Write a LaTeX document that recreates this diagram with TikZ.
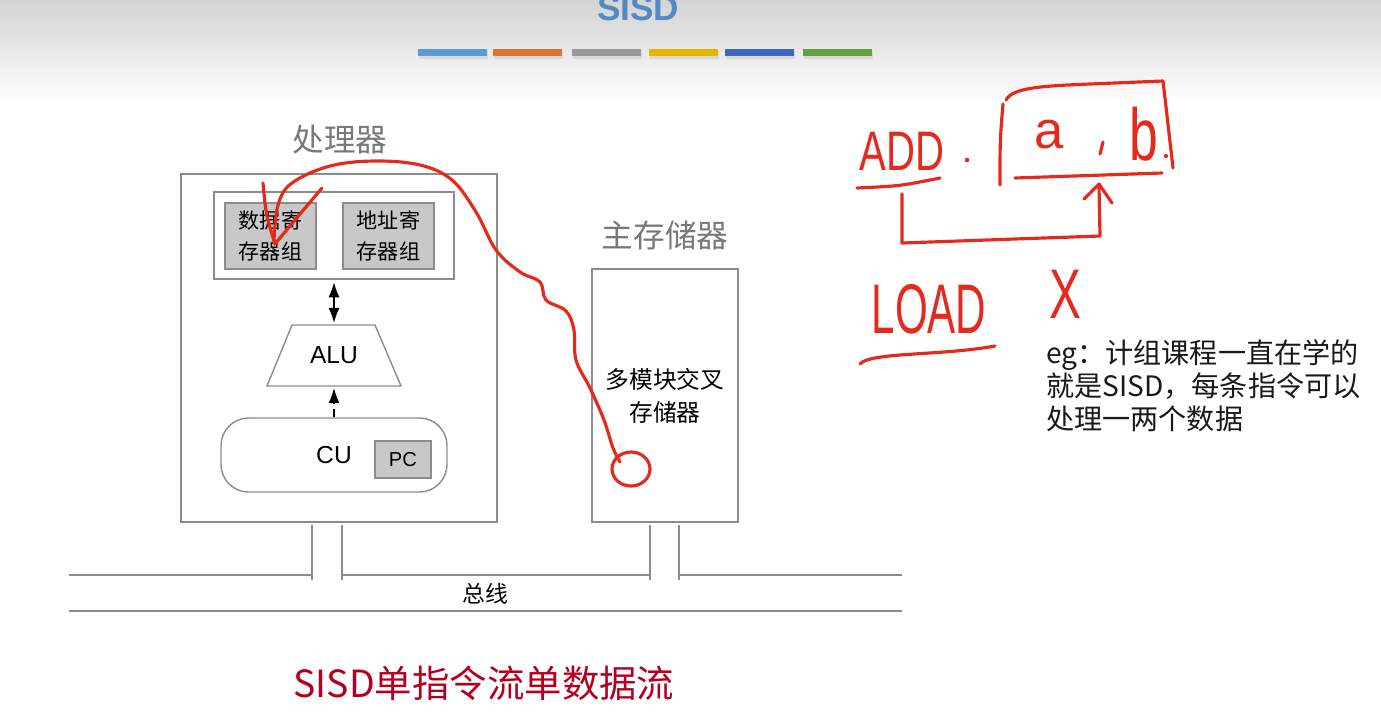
\documentclass[tikz,border=0pt]{standalone}
\usepackage{fontspec}
\usepackage{graphicx}
\setmainfont{Liberation Sans}
\newfontfamily\cjk{Noto Sans CJK SC}
\usetikzlibrary{arrows.meta}
\definecolor{boxgray}{RGB}{140,140,140}
\definecolor{fillgray}{RGB}{200,200,200}
\definecolor{labgray}{RGB}{120,120,120}
\definecolor{pen}{RGB}{228,42,28}
\definecolor{titleblue}{RGB}{80,140,195}
\definecolor{darkred}{RGB}{180,0,30}
\definecolor{bar1}{RGB}{91,155,213}
\definecolor{bar2}{RGB}{221,115,48}
\definecolor{bar3}{RGB}{153,153,153}
\definecolor{bar4}{RGB}{232,180,0}
\definecolor{bar5}{RGB}{63,104,184}
\definecolor{bar6}{RGB}{102,160,64}
\tikzset{
	box/.style={draw=boxgray,line width=0.8pt,inner sep=0pt},
	regbox/.style={box,fill=fillgray,minimum width=1.82cm,minimum height=1.32cm,align=center,font=\cjk\fontsize{12pt}{17.5pt}\selectfont},
	busline/.style={draw=boxgray,line width=0.8pt},
	hand/.style={draw=pen,line width=1.8pt,line cap=round,line join=round},
	handtext/.style={text=pen,inner sep=0pt,anchor=base},
	tip/.style={line width=0.7pt,>={Latex[length=3mm,width=2.2mm]}}
}
\begin{document}
\begin{tikzpicture}[x=0.02cm,y=-0.02cm]
		\useasboundingbox (0,0) rectangle (1381,718);
		\clip (0,0) rectangle (1381,718);
		\fill[white] (0,0) rectangle (1381,718);
		\shade[top color=black!17,bottom color=white] (0,0) rectangle (1381,105);
		\node[font=\bfseries\fontsize{20pt}{24pt}\selectfont,text=titleblue,anchor=base] (title) at (638,20) {SISD};
		\foreach \x/\c in {418/bar1,493/bar2,572/bar3,649/bar4,725/bar5,803/bar6}{
			\fill[black!15] (\x+1,51) rectangle (\x+70,59);
			\fill[\c] (\x,49) rectangle (\x+69,56);
		}
		\node[box,minimum width=6.32cm,minimum height=6.96cm] (proc) at (339,348) {};
		\node[font=\cjk\fontsize{18pt}{22pt}\selectfont,text=labgray] (proclab) at (340,140) {处理器};
		\node[box,minimum width=4.8cm,minimum height=1.74cm] (regs) at (334,235.5) {};
		\node[regbox] (dreg) at (270.5,236) {数据寄\\存器组};
		\node[regbox] (areg) at (388.5,236) {地址寄\\存器组};
		\draw[busline] (292,325) -- (375,325) -- (401,386) -- (267,386) -- cycle;
		\node[inner sep=0pt,minimum width=1.66cm,minimum height=1.22cm,font=\fontsize{14pt}{16pt}\selectfont] (alu) at (334,355.5) {ALU};
		\node[box,rounded corners=0.55cm,minimum width=4.52cm,minimum height=1.48cm,font=\fontsize{14pt}{16pt}\selectfont] (cu) at (334,455) {CU};
		\node[box,fill=fillgray,minimum width=1.12cm,minimum height=0.74cm,font=\fontsize{11.5pt}{14pt}\selectfont] (pc) at (403,459.5) {PC};
		\draw[tip,<->,shorten <=1.5pt,shorten >=1pt] (regs.south) -- (alu.north);
		\draw[tip,->,dash pattern=on 5pt off 2.5pt,shorten >=1pt] (cu.north) -- (alu.south);
		\node[box,minimum width=2.92cm,minimum height=5.06cm,align=center,font=\cjk\fontsize{13.5pt}{18.7pt}\selectfont] (mem) at (665,395.5) {多模块交叉\\存储器};
		\node[font=\cjk\fontsize{18pt}{22pt}\selectfont,text=labgray] (memlab) at (665,235) {主存储器};
		\draw[busline] (69,575) -- (312,575) (342,575) -- (650,575) (679,575) -- (902,575) (69,611) -- (902,611);
		\foreach \x in {312,342,650,679} \draw[busline] (\x,525) -- (\x,580);
		\node[font=\cjk\fontsize{13pt}{15pt}\selectfont] (bus) at (485,594) {总线};
		\node[font=\cjk\fontsize{21.3pt}{24pt}\selectfont,text=darkred] (sisd) at (484,683) {SISD单指令流单数据流};
		\node[font=\cjk\fontsize{16pt}{19pt}\selectfont,align=left,anchor=north west,inner sep=0pt,text=black!90] (note) at (1046,339) {eg：计组课程一直在学的\\就是SISD，每条指令可以\\处理一两个数据};
		\node[handtext,font=\fontsize{31.7pt}{34pt}\selectfont] (add) at (902,170) {\scalebox{0.72}[1]{ADD}};
		\node[handtext,font=\fontsize{30pt}{34pt}\selectfont] (a) at (1049,148) {a};
		\node[handtext,font=\fontsize{42pt}{44pt}\selectfont] (b) at (1144,160) {\scalebox{0.7}[1]{b}};
		\node[handtext,font=\fontsize{40pt}{44pt}\selectfont] (load) at (929,333) {\scalebox{0.6}[1]{LOAD}};
		\node[handtext,font=\fontsize{40pt}{44pt}\selectfont] (xx) at (1065,318) {\scalebox{0.68}[1]{X}};
		\fill[pen] (967,160) circle [radius=2.3];
		\fill[pen] (1166,156) circle [radius=2.1];
		\draw[hand] (1103,142) -- (1100,154);
		\draw[hand] (1003,104) .. controls (1000,140) .. (1000,185);
		\draw[hand] (1006,100) .. controls (1012,88) and (1040,86) .. (1090,84) -- (1163,81) -- (1173,168);
		\draw[hand] (1015,178) -- (1162,173);
		\draw[hand] (857,188) .. controls (900,186) .. (940,178);
		\draw[hand] (902,194) -- (902,243) -- (1100,236) -- (1099,186);
		\draw[hand] (1084,199) -- (1099,184) -- (1112,203);
		\draw[hand] (860,364) .. controls (870,352) and (940,356) .. (995,346);
		\draw[hand] (263,183) .. controls (266,215) .. (275,244) .. controls (295,220) .. (322,188);
		\draw[hand] plot[smooth,tension=0.6] coordinates {(274,240) (278,205) (292,183) (330,166) (375,161) (420,165) (452,180) (476,212) (496,250) (520,272) (540,282) (546,300) (566,311) (574,330) (576,360) (590,388) (604,420) (613,448) (620,462)};
		\draw[hand] (631,469) ellipse [x radius=19,y radius=17];
		\end{tikzpicture}
\end{document}
